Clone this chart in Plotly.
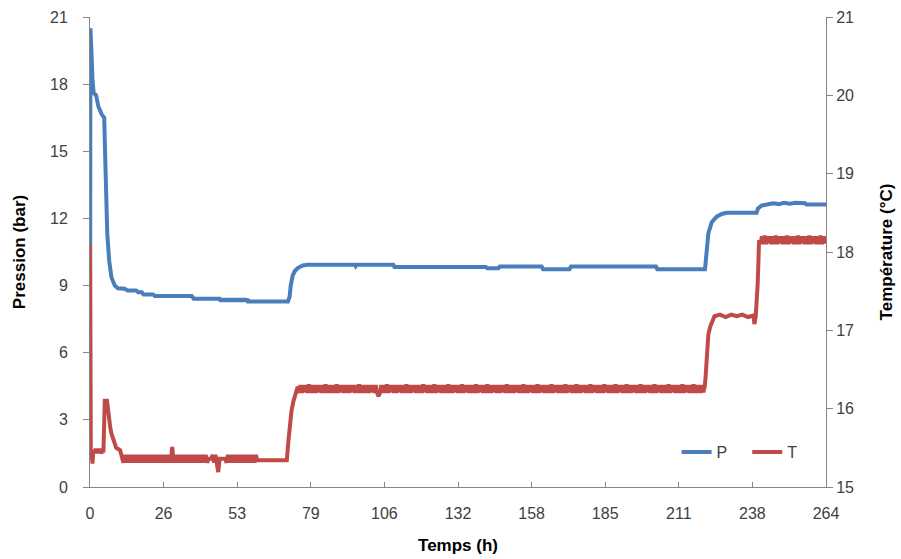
import plotly.graph_objects as go

# ---------------- data ----------------
# Pressure P (bar), left axis
p_time = [0, 0.15, 0.5, 0.9, 1.3, 2.2, 3.0, 4.2, 5.1, 5.4, 5.7, 6.2, 6.9, 7.7, 8.9, 10.0,
          12.4, 13.5, 16.5, 17.3, 18.6, 19.2, 22.7, 23.3, 36.5, 37.2, 46.5,
          47, 47.5, 48, 48.5, 49, 49.5, 50, 50.5, 51, 51.5, 52, 52.5, 53, 53.5, 54, 54.5,
          55, 55.5, 56, 56.5,
          56.7, 71.0, 71.6, 72.0, 72.7, 73.5, 74.5, 76.3, 78,
          95, 95.3, 95.6, 108.8, 109.2, 142, 142.5, 146.5, 147, 162, 162.5, 172, 172.5,
          193, 193.2, 193.4, 203, 203.5, 220.6, 221.2, 221.8, 223, 224.8, 226.6, 228.4,
          239.1, 239.6, 241, 243, 245, 247, 249, 251, 253, 256.5, 257, 264]
p_value = [1.2, 20.5, 19.5, 18.2, 17.6, 17.5, 17.0, 16.65, 16.5, 15.0, 12.8, 11.3, 10.1, 9.36,
           9.0, 8.88, 8.86, 8.78, 8.78, 8.7, 8.7, 8.6, 8.6, 8.53, 8.53, 8.41, 8.41,
           8.3, 8.41, 8.3, 8.41, 8.3, 8.41, 8.3, 8.41, 8.3, 8.41, 8.3, 8.41, 8.3, 8.41, 8.3, 8.41,
           8.3, 8.41, 8.3, 8.41,
           8.29, 8.29, 8.5, 9.0, 9.45, 9.65, 9.78, 9.9, 9.93,
           9.93, 9.87, 9.93, 9.93, 9.83, 9.83, 9.77, 9.77, 9.85, 9.85, 9.73, 9.73, 9.85,
           9.85, 9.8, 9.85, 9.85, 9.73, 9.73, 10.71, 11.33, 11.83, 12.08, 12.2, 12.25,
           12.25, 12.45, 12.58, 12.62, 12.68, 12.64, 12.7, 12.66, 12.7, 12.68, 12.62, 12.62]

# Temperature T (°C), right axis
t_time = [0, 0.3, 0.6, 0.9, 1.2, 1.6, 2.0, 2.4, 2.8, 3.2, 3.6, 4.0, 4.5, 4.8, 5.0, 5.3, 6.1,
          6.8, 7.3, 7.7, 8.2, 8.7, 9.4, 10.8, 11.4,
          12, 12.5, 13, 13.5, 14, 14.5, 15, 15.5, 16, 16.5, 17, 17.5,
          18, 18.5, 19, 19.5, 20, 20.5, 21, 21.5, 22, 22.5, 23, 23.5,
          24, 24.5, 25, 25.5, 26, 26.5, 27, 27.5, 28, 28.5, 29, 29.5,
          30, 30.5, 31, 31.5, 32, 32.5, 33, 33.5, 34, 34.5, 35, 35.5,
          36, 36.5, 37, 37.5, 38, 38.5, 39, 39.5, 40, 40.5, 41, 41.5,
          42, 42.5, 43, 43.5, 44, 44.5, 45, 45.5, 46, 46.5, 47, 47.5,
          48, 48.5, 49, 49.5, 50, 50.5, 51, 51.5, 52, 52.5, 53, 53.5,
          54, 54.5, 55, 55.5, 56, 56.5, 57, 57.5, 58, 58.5, 59, 59.5,
          60, 70.6,
          71.2, 71.8, 72.3, 73, 74, 74.5,
          75, 75.5, 76, 76.5, 77, 77.5, 78, 78.5, 79, 79.5, 80, 80.5,
          81, 81.5, 82, 82.5, 83, 83.5, 84, 84.5, 85, 85.5, 86, 86.5,
          87, 87.5, 88, 88.5, 89, 89.5, 90, 90.5, 91, 91.5, 92, 92.5,
          93, 93.5, 94, 94.5, 95, 95.5, 96, 96.5, 97, 97.5, 98, 98.5,
          99, 99.5, 100, 100.5, 101, 101.5, 102, 102.5, 103, 103.5, 104, 104.5,
          105, 105.5, 106, 106.5, 107, 107.5, 108, 108.5, 109, 109.5, 110, 110.5,
          111, 111.5, 112, 112.5, 113, 113.5, 114, 114.5, 115, 115.5, 116, 116.5,
          117, 117.5, 118, 118.5, 119, 119.5, 120, 120.5, 121, 121.5, 122, 122.5,
          123, 123.5, 124, 124.5, 125, 125.5, 126, 126.5, 127, 127.5, 128, 128.5,
          129, 129.5, 130, 130.5, 131, 131.5, 132, 132.5, 133, 133.5, 134, 134.5,
          135, 135.5, 136, 136.5, 137, 137.5, 138, 138.5, 139, 139.5, 140, 140.5,
          141, 141.5, 142, 142.5, 143, 143.5, 144, 144.5, 145, 145.5, 146, 146.5,
          147, 147.5, 148, 148.5, 149, 149.5, 150, 150.5, 151, 151.5, 152, 152.5,
          153, 153.5, 154, 154.5, 155, 155.5, 156, 156.5, 157, 157.5, 158, 158.5,
          159, 159.5, 160, 160.5, 161, 161.5, 162, 162.5, 163, 163.5, 164, 164.5,
          165, 165.5, 166, 166.5, 167, 167.5, 168, 168.5, 169, 169.5, 170, 170.5,
          171, 171.5, 172, 172.5, 173, 173.5, 174, 174.5, 175, 175.5, 176, 176.5,
          177, 177.5, 178, 178.5, 179, 179.5, 180, 180.5, 181, 181.5, 182, 182.5,
          183, 183.5, 184, 184.5, 185, 185.5, 186, 186.5, 187, 187.5, 188, 188.5,
          189, 189.5, 190, 190.5, 191, 191.5, 192, 192.5, 193, 193.5, 194, 194.5,
          195, 195.5, 196, 196.5, 197, 197.5, 198, 198.5, 199, 199.5, 200, 200.5,
          201, 201.5, 202, 202.5, 203, 203.5, 204, 204.5, 205, 205.5, 206, 206.5,
          207, 207.5, 208, 208.5, 209, 209.5, 210, 210.5, 211, 211.5, 212, 212.5,
          213, 213.5, 214, 214.5, 215, 215.5, 216, 216.5, 217, 217.5, 218, 218.5,
          219, 219.5, 220, 220.5,
          220.8, 221.2, 221.8, 222.5, 223.3, 224, 226, 228, 230, 232, 234, 236, 238, 238.3,
          238.8, 239.5, 240,
          240.5, 241, 241.5, 242, 242.5, 243, 243.5, 244, 244.5, 245, 245.5, 246,
          246.5, 247, 247.5, 248, 248.5, 249, 249.5, 250, 250.5, 251, 251.5, 252,
          252.5, 253, 253.5, 254, 254.5, 255, 255.5, 256, 256.5, 257, 257.5, 258,
          258.5, 259, 259.5, 260, 260.5, 261, 261.5, 262, 262.5, 263, 263.5, 264]
t_value = [18.1, 15.35, 15.45, 15.3, 15.47, 15.43, 15.49, 15.43, 15.49, 15.43, 15.49, 15.43,
           15.47, 15.44, 15.9, 16.1, 16.1, 15.85, 15.75, 15.68, 15.62, 15.56, 15.5, 15.47, 15.4,
           15.31, 15.41, 15.31, 15.41, 15.31, 15.41, 15.31, 15.41, 15.31, 15.41, 15.31, 15.41,
           15.31, 15.41, 15.31, 15.41, 15.31, 15.41, 15.31, 15.41, 15.31, 15.41, 15.31, 15.41,
           15.31, 15.41, 15.31, 15.41, 15.31, 15.41, 15.31, 15.41, 15.31, 15.41, 15.31, 15.51,
           15.31, 15.41, 15.31, 15.41, 15.31, 15.41, 15.31, 15.41, 15.31, 15.41, 15.31, 15.41,
           15.31, 15.41, 15.31, 15.41, 15.31, 15.41, 15.31, 15.41, 15.31, 15.41, 15.31, 15.41,
           15.31, 15.36, 15.36, 15.36, 15.41, 15.31, 15.41, 15.31, 15.19, 15.36, 15.36, 15.36,
           15.36, 15.36, 15.31, 15.41, 15.31, 15.41, 15.31, 15.41, 15.31, 15.41, 15.31, 15.41,
           15.31, 15.41, 15.31, 15.41, 15.31, 15.41, 15.31, 15.41, 15.31, 15.41, 15.31, 15.41,
           15.34, 15.34,
           15.6, 15.9, 15.98, 16.1, 16.22, 16.28,
           16.20, 16.30, 16.20, 16.30, 16.21, 16.30, 16.20, 16.31, 16.20, 16.30, 16.20, 16.30,
           16.20, 16.30, 16.21, 16.30, 16.20, 16.30, 16.20, 16.31, 16.20, 16.30, 16.20, 16.30,
           16.20, 16.30, 16.20, 16.31, 16.20, 16.30, 16.21, 16.30, 16.20, 16.30, 16.20, 16.30,
           16.20, 16.30, 16.21, 16.30, 16.20, 16.30, 16.20, 16.31, 16.20, 16.30, 16.20, 16.30,
           16.20, 16.30, 16.20, 16.30, 16.21, 16.30, 16.20, 16.30, 16.20, 16.16, 16.20, 16.30,
           16.20, 16.30, 16.20, 16.31, 16.20, 16.30, 16.21, 16.30, 16.20, 16.30, 16.20, 16.30,
           16.21, 16.30, 16.20, 16.30, 16.20, 16.31, 16.20, 16.30, 16.20, 16.30, 16.21, 16.30,
           16.20, 16.30, 16.20, 16.30, 16.20, 16.31, 16.21, 16.30, 16.20, 16.30, 16.20, 16.30,
           16.20, 16.31, 16.20, 16.30, 16.21, 16.30, 16.20, 16.30, 16.20, 16.30, 16.20, 16.31,
           16.20, 16.30, 16.20, 16.30, 16.21, 16.30, 16.20, 16.30, 16.20, 16.31, 16.20, 16.30,
           16.21, 16.30, 16.20, 16.30, 16.20, 16.30, 16.20, 16.31, 16.20, 16.30, 16.21, 16.30,
           16.20, 16.30, 16.20, 16.31, 16.20, 16.30, 16.20, 16.30, 16.21, 16.30, 16.20, 16.30,
           16.20, 16.30, 16.21, 16.30, 16.20, 16.31, 16.20, 16.30, 16.20, 16.30, 16.20, 16.30,
           16.21, 16.30, 16.20, 16.30, 16.20, 16.31, 16.20, 16.30, 16.20, 16.30, 16.21, 16.30,
           16.20, 16.30, 16.20, 16.31, 16.20, 16.30, 16.21, 16.30, 16.20, 16.30, 16.20, 16.30,
           16.20, 16.31, 16.20, 16.30, 16.21, 16.30, 16.20, 16.30, 16.20, 16.30, 16.20, 16.31,
           16.20, 16.30, 16.21, 16.30, 16.20, 16.30, 16.20, 16.31, 16.20, 16.30, 16.20, 16.30,
           16.21, 16.30, 16.20, 16.30, 16.20, 16.31, 16.20, 16.30, 16.21, 16.30, 16.20, 16.30,
           16.20, 16.30, 16.20, 16.31, 16.21, 16.30, 16.20, 16.30, 16.20, 16.30, 16.20, 16.31,
           16.20, 16.30, 16.21, 16.30, 16.20, 16.30, 16.20, 16.31, 16.20, 16.30, 16.20, 16.30,
           16.21, 16.30, 16.20, 16.30, 16.20, 16.31, 16.20, 16.30, 16.20, 16.30, 16.21, 16.30,
           16.20, 16.30, 16.20, 16.31, 16.20, 16.30, 16.21, 16.30, 16.20, 16.30, 16.20, 16.30,
           16.20, 16.31, 16.20, 16.30, 16.21, 16.30, 16.20, 16.30, 16.20, 16.30, 16.20, 16.31,
           16.20, 16.30, 16.21, 16.30, 16.20, 16.30, 16.20, 16.31, 16.20, 16.30, 16.20, 16.30,
           16.20, 16.30, 16.21, 16.28,
           16.4, 16.6, 16.95, 17.05, 17.12, 17.18, 17.2, 17.17, 17.2, 17.18, 17.2, 17.17, 17.19,
           17.08, 17.18, 17.6, 18.15,
           18.10, 18.20, 18.10, 18.21, 18.10, 18.20, 18.11, 18.20, 18.10, 18.20, 18.10, 18.21,
           18.10, 18.20, 18.11, 18.20, 18.10, 18.20, 18.10, 18.21, 18.10, 18.20, 18.11, 18.20,
           18.10, 18.20, 18.10, 18.21, 18.10, 18.20, 18.11, 18.20, 18.10, 18.20, 18.10, 18.21,
           18.10, 18.20, 18.11, 18.20, 18.10, 18.20, 18.10, 18.21, 18.10, 18.20, 18.11, 18.20]

x_tick_values = [0, 26.4, 52.8, 79.2, 105.6, 132, 158.4, 184.8, 211.2, 237.6, 264]
x_tick_labels = ["0", "26", "53", "79", "106", "132", "158", "185", "211", "238", "264"]
p_tick_values = [0, 3, 6, 9, 12, 15, 18, 21]
t_tick_values = [15, 16, 17, 18, 19, 20, 21]

# ---------------- figure ----------------
FONT = "Liberation Sans"
AXIS_GREY = "#868686"
TICK_COLOR = "#404040"

fig = go.Figure()
fig.add_trace(go.Scatter(x=p_time, y=p_value, name="P", mode="lines",
                         line=dict(color="#4a7ebb", width=4), yaxis="y",
                         legend="legend"))
fig.add_trace(go.Scatter(x=t_time, y=t_value, name="T", mode="lines",
                         line=dict(color="#be4b48", width=4), yaxis="y2",
                         legend="legend2"))

legend_common = dict(orientation="h", xanchor="left", yanchor="middle",
                     bgcolor="rgba(0,0,0,0)", font=dict(size=16, color=TICK_COLOR),
                     borderwidth=0)

fig.update_layout(
    width=901, height=559,
    margin=dict(l=90, r=75, t=17, b=72),
    paper_bgcolor="white", plot_bgcolor="white",
    font=dict(family=FONT, size=16, color=TICK_COLOR),
    showlegend=True,
    legend=dict(x=0.797, y=0.074, **legend_common),
    legend2=dict(x=0.893, y=0.074, **legend_common),
    xaxis=dict(range=[0, 264], tickvals=x_tick_values, ticktext=x_tick_labels,
               ticks="inside", ticklen=5, tickcolor=AXIS_GREY, showline=True,
               linecolor=AXIS_GREY, linewidth=1, showgrid=False, zeroline=False,
               automargin=False, ticklabelstandoff=12,
               tickfont=dict(size=16, color=TICK_COLOR),
               title=dict(text="<b>Temps (h)</b>", font=dict(size=17, color="#000000"),
                          standoff=17)),
    yaxis=dict(range=[0, 21], tickvals=p_tick_values,
               ticks="outside", ticklen=6, tickcolor=AXIS_GREY, showline=True,
               linecolor=AXIS_GREY, linewidth=1, showgrid=False, zeroline=False,
               automargin=False, ticklabelstandoff=12,
               tickfont=dict(size=16, color=TICK_COLOR),
               title=dict(text="<b>Pression (bar)</b>", font=dict(size=17, color="#000000"),
                          standoff=20)),
    yaxis2=dict(range=[15, 21], tickvals=t_tick_values,
                overlaying="y", side="right", anchor="x",
                ticks="outside", ticklen=6, tickcolor=AXIS_GREY, showline=True,
                linecolor=AXIS_GREY, linewidth=1, showgrid=False, zeroline=False,
                automargin=False, tickprefix="\u00a0\u00a0\u00a0\u2009",
                tickfont=dict(size=16, color=TICK_COLOR),
                title=dict(text="<b>Température (°C)</b>", font=dict(size=17, color="#000000"),
                           standoff=27)),
)

fig.write_html("out.html", config={"displayModeBar": False},
               post_script="document.body.style.margin='0';")
